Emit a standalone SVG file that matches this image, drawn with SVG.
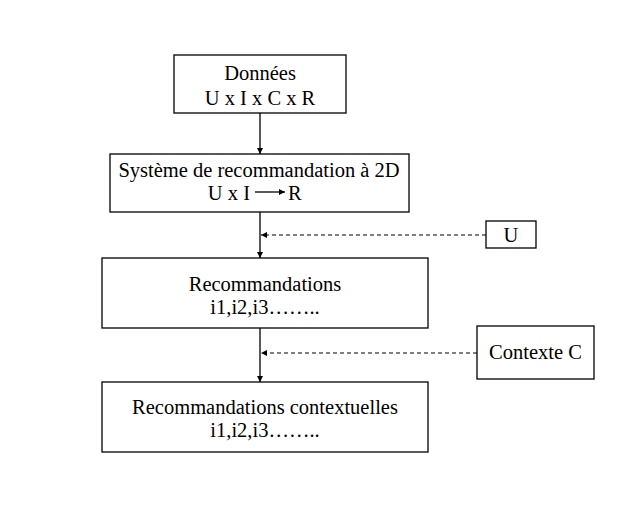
<svg xmlns="http://www.w3.org/2000/svg" width="628" height="517" viewBox="0 0 628 517">
<defs>
<style>
.box{fill:#fff;stroke:#000;stroke-width:1.3}
.t{font-family:"Liberation Serif","Times New Roman",serif;font-size:20.5px;fill:#000;text-anchor:middle}
.ln{stroke:#000;stroke-width:1.3;fill:none}
.dash{stroke:#000;stroke-width:1.1;fill:none;stroke-dasharray:4 3}
</style>
<marker id="ah" markerWidth="8" markerHeight="8" refX="6" refY="3" orient="auto" markerUnits="userSpaceOnUse">
<path d="M0,0 L6,3 L0,6 Z" fill="#000"/>
</marker>
</defs>
<rect width="628" height="517" fill="#fff"/>
<g id="connectors">
<line class="ln" x1="260" y1="113" x2="260" y2="154" marker-end="url(#ah)"/>
<line class="ln" x1="260" y1="212" x2="260" y2="258" marker-end="url(#ah)"/>
<line class="ln" x1="260" y1="328" x2="260" y2="382" marker-end="url(#ah)"/>
<line class="dash" x1="486" y1="235" x2="261" y2="235" marker-end="url(#ah)"/>
<line class="dash" x1="477" y1="353" x2="261" y2="353" marker-end="url(#ah)"/>
</g>
<g id="donnees">
<rect class="box" x="174" y="55" width="172" height="58"/>
<text class="t" x="260" y="80">Données</text>
<text class="t" x="260" y="105">U x I x C x R</text>
</g>
<g id="systeme">
<rect class="box" x="110" y="154" width="299" height="58"/>
<text class="t" x="259" y="177">Système de recommandation à 2D</text>
<text class="t" x="250" y="200" style="text-anchor:end">U x I</text>
<line class="ln" x1="255" y1="192" x2="285" y2="192" marker-end="url(#ah)"/>
<text class="t" x="288" y="200" style="text-anchor:start">R</text>
</g>
<g id="u">
<rect class="box" x="486" y="221" width="50" height="27"/>
<text class="t" x="511" y="242">U</text>
</g>
<g id="recommandations">
<rect class="box" x="102" y="258" width="326" height="70"/>
<text class="t" x="265" y="291">Recommandations</text>
<text class="t" x="265" y="314">i1,i2,i3……..</text>
</g>
<g id="contexte">
<rect class="box" x="477" y="326" width="117" height="53"/>
<text class="t" x="535.5" y="359">Contexte C</text>
</g>
<g id="contextuelles">
<rect class="box" x="102" y="382" width="326" height="70"/>
<text class="t" x="265" y="414">Recommandations contextuelles</text>
<text class="t" x="265" y="437">i1,i2,i3……..</text>
</g>
</svg>
